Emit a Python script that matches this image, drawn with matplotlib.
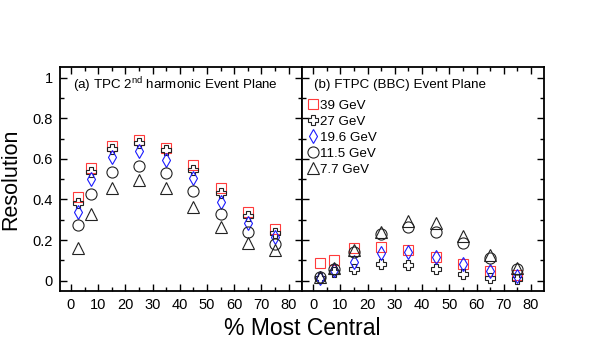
import matplotlib

matplotlib.use("Agg")
import matplotlib.pyplot as plt
from matplotlib.ticker import MultipleLocator, FuncFormatter

plt.rcParams["font.family"] = ["Liberation Sans", "DejaVu Sans"]

# centrality bin centres (% most central)
CENT = [2.5, 7.5, 15, 25, 35, 45, 55, 65, 75]

LABELS = ["39 GeV", "27 GeV", "19.6 GeV", "11.5 GeV", "7.7 GeV"]

# (a) TPC 2nd harmonic event plane resolution
TPC_39 = [0.41, 0.555, 0.665, 0.695, 0.655, 0.57, 0.455, 0.34, 0.255]
TPC_27 = [0.38, 0.535, 0.65, 0.68, 0.645, 0.545, 0.43, 0.32, 0.235]
TPC_19 = [0.34, 0.50, 0.61, 0.64, 0.595, 0.505, 0.385, 0.285, 0.215]
TPC_11 = [0.275, 0.425, 0.535, 0.565, 0.53, 0.44, 0.33, 0.24, 0.18]
TPC_7 = [0.16, 0.33, 0.455, 0.495, 0.455, 0.365, 0.265, 0.185, 0.15]

# (b) FTPC (BBC) event plane resolution
FTPC_39 = [0.089, 0.10, 0.16, 0.165, 0.15, 0.118, 0.082, 0.049, 0.027]
FTPC_27 = [0.015, 0.04, 0.058, 0.08, 0.077, 0.056, 0.033, 0.015, 0.007]
FTPC_19 = [0.012, 0.05, 0.094, 0.135, 0.143, 0.115, 0.082, 0.049, 0.023]
FTPC_11 = [0.017, 0.056, 0.143, 0.23, 0.266, 0.241, 0.187, 0.11, 0.056]
FTPC_7 = [0.02, 0.06, 0.151, 0.241, 0.294, 0.283, 0.22, 0.127, 0.061]

RED = "#ff3b3b"
BLUE = "#1a1aff"
STYLES = [
    dict(marker="s", ms=7.2, mec=RED),
    dict(marker="P", ms=7.4, mec="#222222"),
    dict(marker="d", ms=7.5, mec=BLUE),
    dict(marker="o", ms=8.0, mec="#222222"),
    dict(marker="^", ms=8.5, mec="#222222"),
]

fig = plt.figure(figsize=(6.0, 3.55), dpi=100)
L, R, B, T = 0.0992, 0.9067, 0.181, 0.811
W = (R - L) / 2
ax1 = fig.add_axes([L, B, W, T - B])
ax2 = fig.add_axes([L + W, B, W, T - B], sharey=ax1)

for ax, series in ((ax1, [TPC_39, TPC_27, TPC_19, TPC_11, TPC_7]),
                   (ax2, [FTPC_39, FTPC_27, FTPC_19, FTPC_11, FTPC_7])):
    for vals, st, lab in zip(series, STYLES, LABELS):
        ax.plot(CENT, vals, ls="none", mfc="none", mew=0.8, label=lab,
                marker=st["marker"], ms=st["ms"], mec=st["mec"])
    ax.set_xlim(-4.2, 84.8)
    ax.set_ylim(-0.05, 1.052)
    ax.xaxis.set_major_locator(MultipleLocator(10))
    ax.xaxis.set_minor_locator(MultipleLocator(5))
    ax.yaxis.set_major_locator(MultipleLocator(0.2))
    ax.yaxis.set_minor_locator(MultipleLocator(0.1))
    ax.tick_params(which="both", direction="in", top=True, right=True,
                   labelsize=10.5, width=1.0, pad=5)
    ax.tick_params(which="major", length=5)
    ax.tick_params(which="minor", length=3)
    for s in ax.spines.values():
        s.set_linewidth(1.3)

ax1.yaxis.set_major_formatter(FuncFormatter(lambda v, p: f"{v:g}"))
ax2.tick_params(labelleft=False)

ax1.text(0.055, 0.92, "(a) TPC 2$^{\\mathregular{nd}}$ harmonic Event Plane",
         transform=ax1.transAxes, fontsize=9.6, ha="left", va="center")
ax2.text(0.05, 0.92, "(b) FTPC (BBC) Event Plane",
         transform=ax2.transAxes, fontsize=9.6, ha="left", va="center")

ax2.legend(loc="upper left", bbox_to_anchor=(0.0, 0.885), frameon=False,
           fontsize=9.6, handlelength=0.7, handletextpad=0.15,
           labelspacing=0.27, borderaxespad=0.3, borderpad=0.2)

ax1.set_ylabel("Resolution", fontsize=15.5, labelpad=8)
fig.text((L + R) / 2, 0.075, "% Most Central", fontsize=16.5,
         ha="center", va="center")

fig.savefig("out.png", dpi=100)
